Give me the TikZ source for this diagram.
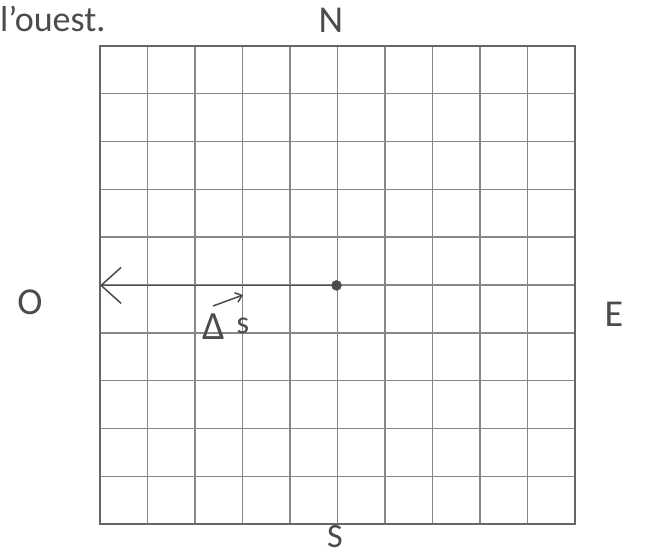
\documentclass[tikz,border=0pt]{standalone}
\usepackage{fontspec}
\setmainfont{Carlito}
\usetikzlibrary{arrows.meta}
\definecolor{gridgray}{RGB}{135,135,135}
\definecolor{ink}{RGB}{75,75,75}
\begin{document}
\begin{tikzpicture}[x=1pt,y=-1pt,
  gridline/.style={draw=gridgray,line width=1.4pt},
  border/.style={draw=gray!80!black,line width=1.7pt},
  hand/.style={text=ink,inner sep=0pt,font=\fontsize{38}{38}\selectfont},
  vec/.style={draw=ink,line width=1.5pt,-{Straight Barb[length=20pt,width=36pt,line width=1.5pt]}},
  smallvec/.style={draw=ink,line width=1.5pt,-{Straight Barb[length=6pt,width=10pt,line width=1.5pt]}}]
\useasboundingbox (0,0) rectangle (646,559);
\fill[white] (0,0) rectangle (646,559);
% grid
\foreach \i in {1,...,9}{
  \draw[gridline] ({100+\i*47.5},46) -- ({100+\i*47.5},524);
  \draw[gridline] (100,{46+\i*47.8}) -- (575,{46+\i*47.8});
}
\draw[border] (100,46) rectangle (575,524);
% text
\node[anchor=west,text=black!70,font=\fontsize{36}{36}\selectfont,inner sep=0pt] (title) at (0,19) {l'ouest.};
\node[hand] (N) at (331,20) {N};
\node[hand,font=\fontsize{34}{34}\selectfont] (S) at (335,537) {S};
\node[hand] (O) at (30,302) {O};
\node[hand] (E) at (614,314) {E};
% vector
\node[circle,fill=ink,draw=ink,inner sep=0pt,minimum size=10pt] (dot) at (336.5,285.4) {};
\coordinate (tip) at (100,285.4);
\draw[vec] (dot) -- (tip);
\node[hand,font=\fontsize{40}{40}\selectfont] (delta) at (214,327) {Δ};
\node[hand,font=\fontsize{32}{32}\selectfont] (s) at (243,326) {s};
\coordinate (va) at (213,306);
\coordinate (vb) at (243,295);
\draw[smallvec] (va) -- (vb);
\end{tikzpicture}
\end{document}
